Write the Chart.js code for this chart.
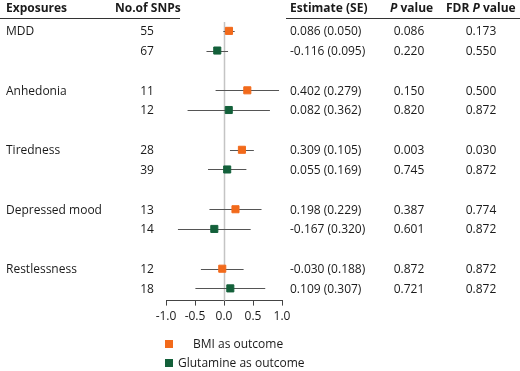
<!DOCTYPE html>
<html>
<head>
<meta charset="utf-8">
<script src="https://cdn.jsdelivr.net/npm/chart.js@4/dist/chart.umd.min.js"></script>
<style>
  html, body { margin: 0; padding: 0; background: #fff; }
  #wrap { width: 520px; height: 371px; position: relative; }
</style>
</head>
<body>
<div id="wrap"><canvas id="forest"></canvas></div>
<script>
// exposures and the two outcome rows per exposure
const exposures = ["MDD", "Anhedonia", "Tiredness", "Depressed mood", "Restlessness"];
const seriesNames = ["BMI as outcome", "Glutamine as outcome"];

// BMI as outcome
const bmiSnps = [55, 11, 28, 13, 12];
const bmiEst = [0.086, 0.402, 0.309, 0.198, -0.030];
const bmiSe = ["0.050", "0.279", "0.105", "0.229", "0.188"];
const bmiLower = [-0.012, -0.145, 0.103, -0.251, -0.398];
const bmiUpper = [0.184, 0.949, 0.515, 0.647, 0.338];
const bmiP = ["0.086", "0.150", "0.003", "0.387", "0.872"];
const bmiFdr = ["0.173", "0.500", "0.030", "0.774", "0.872"];

// Glutamine as outcome
const gluSnps = [67, 12, 39, 14, 18];
const gluEst = [-0.116, 0.082, 0.055, -0.167, 0.109];
const gluSe = ["0.095", "0.362", "0.169", "0.320", "0.307"];
const gluLower = [-0.302, -0.628, -0.276, -0.794, -0.493];
const gluUpper = [0.070, 0.792, 0.386, 0.460, 0.711];
const gluP = ["0.220", "0.820", "0.745", "0.601", "0.721"];
const gluFdr = ["0.550", "0.872", "0.872", "0.872", "0.872"];

const xTicks = [-1.0, -0.5, 0.0, 0.5, 1.0];

const ORANGE = "#f26a1b";
const GREEN = "#13603a";
const GROUP_STEP = 3.02;
const FONT = "'Open Sans', sans-serif";

const rowY = (g, i) => g * GROUP_STEP + i;

const fmt = v => (v < 0 ? "-" : "") + Math.abs(v).toFixed(3);

const datasets = [
  {
    label: seriesNames[0],
    data: bmiEst.map((v, g) => ({ x: v, y: rowY(g, 0), lo: bmiLower[g], hi: bmiUpper[g] })),
    backgroundColor: ORANGE,
    borderColor: ORANGE,
    pointStyle: "rect",
    pointRadius: 5,
  },
  {
    label: seriesNames[1],
    data: gluEst.map((v, g) => ({ x: v, y: rowY(g, 1), lo: gluLower[g], hi: gluUpper[g] })),
    backgroundColor: GREEN,
    borderColor: GREEN,
    pointStyle: "rect",
    pointRadius: 5,
  },
];

// whiskers + zero line, under the squares
const whiskers = {
  id: "whiskers",
  beforeDatasetsDraw(chart) {
    const { ctx, scales: { x, y }, chartArea } = chart;
    ctx.save();
    ctx.strokeStyle = "#c4c4c4";
    ctx.lineWidth = 1.5;
    const x0 = Math.round(x.getPixelForValue(0)) + 0.5;
    ctx.beginPath();
    ctx.moveTo(x0, chartArea.top);
    ctx.lineTo(x0, chartArea.bottom);
    ctx.stroke();
    ctx.strokeStyle = "#555";
    ctx.lineWidth = 1;
    chart.data.datasets.forEach(ds => {
      ds.data.forEach(p => {
        const py = Math.round(y.getPixelForValue(p.y)) + 0.5;
        ctx.beginPath();
        ctx.moveTo(x.getPixelForValue(p.lo), py);
        ctx.lineTo(x.getPixelForValue(p.hi), py);
        ctx.stroke();
      });
    });
    ctx.restore();
  },
};

// table columns, header rules and legend
const table = {
  id: "table",
  afterDraw(chart) {
    const { ctx, scales: { y } } = chart;
    ctx.save();
    ctx.fillStyle = "#1a1a1a";
    ctx.textBaseline = "middle";

    // header
    const B = "bold 12px " + FONT, BI = "italic bold 12px " + FONT;
    ctx.font = B;
    ctx.textAlign = "left";
    ctx.fillText("Exposures", 6, 9);
    ctx.fillText("No.of SNPs", 115, 9);
    ctx.fillText("Estimate (SE)", 290, 9);
    ctx.font = BI;
    ctx.fillText("P", 390, 9);
    let w = ctx.measureText("P ").width;
    ctx.font = B;
    ctx.fillText("value", 390 + w, 9);
    ctx.fillText("FDR ", 446, 9);
    w = ctx.measureText("FDR ").width;
    ctx.font = BI;
    ctx.fillText("P", 446 + w, 9);
    const w2 = ctx.measureText("P ").width;
    ctx.font = B;
    ctx.fillText("value", 446 + w + w2, 9);

    ctx.strokeStyle = "#333";
    ctx.lineWidth = 1;
    ctx.beginPath();
    ctx.moveTo(0, 18.5); ctx.lineTo(180, 18.5);
    ctx.moveTo(286, 18.5); ctx.lineTo(520, 18.5);
    ctx.stroke();

    // rows
    ctx.font = "12px " + FONT;
    exposures.forEach((name, g) => {
      const rows = [
        [bmiSnps[g], bmiEst[g], bmiSe[g], bmiP[g], bmiFdr[g]],
        [gluSnps[g], gluEst[g], gluSe[g], gluP[g], gluFdr[g]],
      ];
      rows.forEach((r, i) => {
        const py = y.getPixelForValue(rowY(g, i)) + 1;
        if (i === 0) {
          ctx.textAlign = "left";
          ctx.fillText(name, 6, py);
        }
        ctx.textAlign = "center";
        ctx.fillText(String(r[0]), 147, py);
        ctx.textAlign = "left";
        ctx.fillText(fmt(r[1]) + " (" + r[2] + ")", 290, py);
        ctx.textAlign = "center";
        ctx.fillText(r[3], 409, py);
        ctx.fillText(r[4], 481, py);
      });
    });

    // legend
    ctx.textAlign = "left";
    ctx.fillStyle = ORANGE;
    ctx.fillRect(165, 340, 8, 8);
    ctx.fillStyle = GREEN;
    ctx.fillRect(165, 359, 8, 8);
    ctx.fillStyle = "#1a1a1a";
    ctx.fillText(seriesNames[0], 193, 344.5);
    ctx.fillText(seriesNames[1], 178, 363.5);
    ctx.restore();
  },
};

new Chart(document.getElementById("forest"), {
  type: "scatter",
  data: { datasets },
  options: {
    responsive: true,
    maintainAspectRatio: false,
    animation: false,
    layout: { padding: { left: 166, right: 238, top: 22, bottom: 43 } },
    plugins: { legend: { display: false }, tooltip: { enabled: false } },
    scales: {
      x: {
        type: "linear",
        min: -1,
        max: 1,
        afterBuildTicks: axis => { axis.ticks = xTicks.map(v => ({ value: v })); },
        ticks: {
          callback: v => v.toFixed(1),
          color: "#1a1a1a",
          font: { family: FONT, size: 12 },
          padding: 4,
          maxRotation: 0,
        },
        grid: { drawOnChartArea: false, drawTicks: true, tickLength: 5, color: "#444" },
        border: { color: "#444", width: 1 },
      },
      y: {
        display: false,
        reverse: true,
        min: -0.45,
        max: 13.7,
      },
    },
  },
  plugins: [whiskers, table],
});
</script>
</body>
</html>
